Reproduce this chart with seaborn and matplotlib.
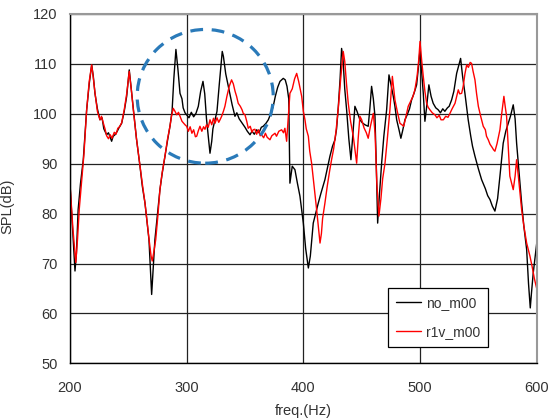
import matplotlib
matplotlib.use("Agg")
import matplotlib.pyplot as plt
from matplotlib.patches import Ellipse
import numpy as np
import pandas as pd
import seaborn as sns

# no_m00 (black)
freq_no = [
    200, 202, 204.3, 205.5, 207, 209, 211.4, 214.3, 216.5, 218.6, 220, 221.4, 223.5, 225.7, 227.5,
    229, 231.4, 233, 235.7, 237, 238.6, 240.5, 242, 244.3, 246.5, 248.6, 250.8, 252.5, 254.3, 257,
    260, 262, 264.3, 267.7, 270, 272.8, 275, 277.1, 279, 281.4, 283.5, 285.7, 287.5, 289, 290.8,
    292.5, 294.3, 296, 297, 298.6, 300, 302, 304, 306, 308, 310, 312, 314, 315.5, 317,
    318.5, 320, 321.5, 322.5, 324.3, 326, 328, 330.5, 331.5, 333.5, 335.7, 337, 339, 341.4, 343,
    345, 346.5, 348.5, 350, 352, 354.3, 356, 358, 360, 362, 364, 365.6, 368, 370, 372,
    374.2, 376, 378, 380, 382.8, 384.5, 386, 387.5, 388.5, 390.5, 392.8, 395, 397.1, 400, 402,
    404.3, 406, 408.5, 410.5, 412.8, 415, 418.5, 420.5, 422.8, 425, 427.1, 428.5, 430, 431.5, 432.8,
    434, 435.5, 437.1, 439, 440.8, 442.5, 444.2, 446, 448.5, 450.5, 452.8, 455.6, 457, 458.5, 460,
    461.4, 462.5, 463.7, 465, 467.1, 469, 471.4, 473.4, 475, 477.1, 478.5, 480, 482, 483.6, 485,
    487.1, 489, 491, 492.8, 495, 497.1, 498.5, 500, 501.5, 502.8, 504.2, 505.5, 507.6, 509.5, 511.3,
    513.5, 515.6, 517.5, 519.5, 521.3, 523.5, 525, 527.1, 529, 531.4, 533, 534.8, 536.5, 538.5, 541.3,
    543.5, 545, 547.1, 550, 552.8, 556, 558, 560, 562, 564.2, 566.5, 568.5, 571.3, 573.5, 575.6,
    577.5, 579.9, 581.5, 582.8, 585, 587.1, 589, 591.4, 593, 594.5, 595.5, 597, 598.5, 600,
]
spl_no = [
    86, 78, 68.5, 72, 80.8, 86, 90.8, 100.8, 106, 109.8, 107.5, 104.1, 101, 98.8, 99.2,
    97, 95.8, 96.2, 94.5, 95.5, 95.8, 96.5, 97.2, 98.1, 100.5, 103.5, 108.8, 105, 100.8, 95,
    89.5, 85.5, 82.1, 74.8, 63.8, 74.8, 80, 84.8, 88, 91.5, 94.5, 97.5, 100.5, 107, 112.9,
    109, 104.1, 103, 101.2, 100.2, 99.8, 99.2, 100.3, 99.4, 100.1, 101.5, 104.5, 106.5, 104, 99,
    95.5, 92.1, 94.5, 97, 98.8, 100.5, 106, 112.5, 111.5, 108, 105.5, 104, 101.8, 99.5, 100.2,
    99, 98.5, 97.8, 97.3, 96.5, 95.8, 96.5, 95.9, 96.8, 96.2, 97.3, 97.5, 98.1, 98.8, 100,
    101.5, 103.5, 105.3, 106.5, 107.1, 106.8, 105.5, 103, 86.1, 89.5, 88.8, 86, 83.5, 78.1, 73,
    69.1, 71.5, 78.1, 80, 82.1, 84, 86.8, 89, 91.5, 93.5, 94.8, 97, 101.5, 107, 113.1,
    111, 105, 100.8, 95, 90.8, 96, 101.5, 100.5, 98.8, 98.2, 97.8, 97.5, 101, 105.5, 103,
    99.5, 90, 78.1, 83, 90.1, 95.5, 100.8, 107.8, 106, 103.5, 101.5, 98.8, 96.8, 95.1, 96.5,
    98.8, 99.8, 101, 102.8, 104.2, 105.8, 109, 112.8, 108, 104.1, 98.5, 101, 105.8, 103.5, 102.1,
    101.2, 100.8, 100.2, 101, 100.5, 101.2, 101.5, 102.8, 104.5, 108.1, 109.5, 111.1, 107.5, 104.1, 98.8,
    95.5, 93.5, 91.5, 89, 86.8, 85, 83.6, 82.8, 81.5, 80.5, 83, 87.5, 94.1, 96.5, 98.1,
    99.5, 101.8, 99, 94.1, 88, 82.1, 77.5, 72.8, 66, 61.1, 64, 68, 71, 74,
]

# r1v_m00 (red)
freq_r1v = [
    200, 202.5, 205, 206.5, 208, 210, 212, 214.3, 216.5, 218.6, 220, 221.4, 223.5, 225.7, 227,
    228.5, 230, 231.4, 233, 234.5, 236, 238, 239.5, 241, 242.5, 244.3, 246.5, 248.6, 250.8, 252.5,
    254.3, 257, 260, 262, 264.3, 267.7, 269.5, 270.5, 272, 273.5, 275.5, 277.1, 279, 281.4, 283.5,
    285.7, 287, 288.5, 290, 291.5, 293, 294.3, 296, 298.6, 300, 301.5, 303, 304.5, 306, 307.5,
    308.6, 310, 311.4, 313, 314.5, 315.7, 317, 318.5, 320, 321.5, 323, 324.3, 326, 327.5, 328.6,
    330, 331.5, 332.8, 334.5, 336.5, 338.5, 340, 341.5, 342.8, 344.2, 346, 347.5, 348.5, 350, 351.5,
    352.8, 354.5, 356, 357, 358.5, 360, 361.5, 363, 364.2, 366, 367.5, 369, 371.4, 373, 375.7,
    377, 379, 381.4, 383, 384.2, 385.7, 387, 388.5, 390.5, 392.5, 394.3, 396, 398.6, 400, 401.4,
    402.5, 404.3, 405.5, 407.1, 409, 411.4, 413, 414.3, 415.5, 416.5, 418.5, 420.5, 422.5, 424.2, 426,
    428, 430, 432, 434.2, 435.5, 437, 438.5, 440.5, 442.8, 445.7, 447, 448.5, 450, 452, 454,
    455.6, 457.5, 460, 461.5, 463, 464.8, 466.5, 468, 470, 472, 474.2, 476.3, 477.5, 478.5, 480.5,
    482.8, 484.5, 486, 488, 489.9, 492, 494, 495.6, 497.5, 499, 500, 501.5, 502.8, 504.2, 505.7,
    507, 508.5, 510.5, 512.8, 514.5, 516.5, 518, 520, 522, 524, 525.7, 527.5, 530, 531.5, 532.8,
    534, 535.7, 537, 538.5, 540, 541.5, 543, 544.2, 545.5, 547.1, 548.5, 550, 552, 554.2, 556,
    557, 558.5, 560, 562, 563, 564.2, 566, 568.5, 570, 571.9, 573, 574.2, 575.5, 577, 579.9,
    581.5, 582.8, 584.5, 587.1, 589, 591.4, 594.2, 596, 598, 600,
]
spl_r1v = [
    86, 77, 70.2, 75, 81, 86.5, 92, 100.8, 106.5, 109.8, 107.2, 104.3, 100.5, 98.8, 99.5,
    98.2, 97, 95.6, 95, 95.8, 95.1, 96.3, 95.9, 97.1, 97.4, 98.2, 100.8, 104, 108.5, 105,
    100.8, 95, 89.5, 86, 82.1, 75, 71.5, 70.5, 72.5, 74.8, 80, 84.8, 88.2, 91.5, 94.8,
    97.5, 99.5, 101.1, 100.5, 99.8, 100.3, 99.5, 98.5, 97.8, 97.5, 96.5, 97.4, 96.1, 96.8, 95.4,
    95.5, 96.6, 97.5, 96.5, 97.4, 96.9, 97.8, 97.3, 98.8, 97.8, 99.1, 98.1, 99.2, 98.3, 98.8,
    99.5, 100.5, 101.5, 103.5, 105.5, 106.8, 106, 104.5, 103.5, 102.1, 101.5, 100.8, 100.1, 99.8, 98.5,
    97.1, 97.5, 96.3, 96.8, 96.9, 95.9, 96.8, 95.6, 95.8, 95.2, 96.1, 95.3, 94.8, 95.6, 96.1,
    95.5, 96.5, 96.8, 96.2, 97.1, 94.5, 99, 104.1, 105, 107, 108.1, 106.5, 103.5, 100.5, 98.8,
    97, 95.5, 92.5, 90.1, 86, 80.8, 77, 74.1, 76, 79, 82.1, 85.5, 88.5, 90.8, 93,
    96.5, 101.2, 107, 112.5, 110.5, 106, 102.1, 98.5, 95.5, 90.1, 95, 99.5, 98.8, 97.2, 96.2,
    95.1, 97.5, 100.1, 96, 86, 79.5, 83, 87, 90.1, 95, 100.8, 107.5, 105, 102.8, 100.5,
    98.1, 97.8, 97.5, 99.5, 101.5, 102.5, 103.5, 104.8, 107.5, 111, 114.5, 110.5, 107.5, 104.5, 102.1,
    101.3, 100.8, 100.2, 99.8, 99.2, 99.7, 98.8, 98.8, 99.5, 99.3, 100.1, 101, 102.1, 103.5, 104.8,
    104, 104.1, 105.5, 108, 109.8, 109.3, 110.3, 110.1, 108.5, 106.8, 104, 101.5, 99.5, 97.5, 96.8,
    95.5, 94.8, 93.9, 93.2, 92.8, 92.5, 94, 96.8, 100, 103.5, 101.5, 99.5, 94, 87.5, 84.8,
    87.5, 90.8, 87, 80.8, 77.5, 74.1, 71.5, 69.5, 67, 65,
]

x_ticks = [200, 300, 400, 500, 600]
y_ticks = [50, 60, 70, 80, 90, 100, 110, 120]

df = pd.concat([
    pd.DataFrame({"freq": freq_no, "spl": spl_no, "series": "no_m00"}),
    pd.DataFrame({"freq": freq_r1v, "spl": spl_r1v, "series": "r1v_m00"}),
], ignore_index=True)

sns.set_style("white")
plt.rcParams["font.family"] = ["Liberation Sans", "DejaVu Sans"]

fig = plt.figure(figsize=(5.58, 4.19), dpi=100)
ax = fig.add_axes([0.1254, 0.1329, 0.8364, 0.8337])

sns.lineplot(data=df, x="freq", y="spl", hue="series",
             palette={"no_m00": "black", "r1v_m00": "red"},
             estimator=None, sort=False, linewidth=1.0, ax=ax)

# dashed circle around the 300 Hz region
ax.add_patch(Ellipse((315.9, 103.5), width=116.6, height=26.8, fill=False,
                     edgecolor="#2a7ab9", linewidth=2.3, linestyle=(0, (4, 2.7)), zorder=5))

ax.set_xlim(200, 600)
ax.set_ylim(50, 120)
ax.set_xticks(x_ticks)
ax.set_yticks(y_ticks)
ax.grid(True, color="#222222", linewidth=0.9)
ax.tick_params(length=0, labelsize=10.5, labelcolor="#333333")
ax.tick_params(axis="x", pad=13)
ax.tick_params(axis="y", pad=9)

for side in ["left", "bottom"]:
    ax.spines[side].set_color("black")
    ax.spines[side].set_linewidth(1.0)
for side in ["top", "right"]:
    ax.spines[side].set_color("#999999")
    ax.spines[side].set_linewidth(1.5)

ax.set_xlabel("freq.(Hz)", fontsize=10.5, color="#333333")
ax.set_ylabel("SPL(dB)", fontsize=10.5, color="#333333")
ax.xaxis.set_label_coords(0.5, -0.117)
ax.yaxis.set_label_coords(-0.12, 0.45)

leg = ax.legend(loc="lower left", bbox_to_anchor=(0.682, 0.048), borderaxespad=0,
                fontsize=10, frameon=True, fancybox=False, framealpha=1,
                handlelength=1.8, handletextpad=0.4, labelspacing=1.1,
                borderpad=0.55, title=None)
leg.get_frame().set_edgecolor("black")
leg.get_frame().set_linewidth(0.9)
for t in leg.get_texts():
    t.set_color("#333333")

fig.savefig("out.png", dpi=100)
